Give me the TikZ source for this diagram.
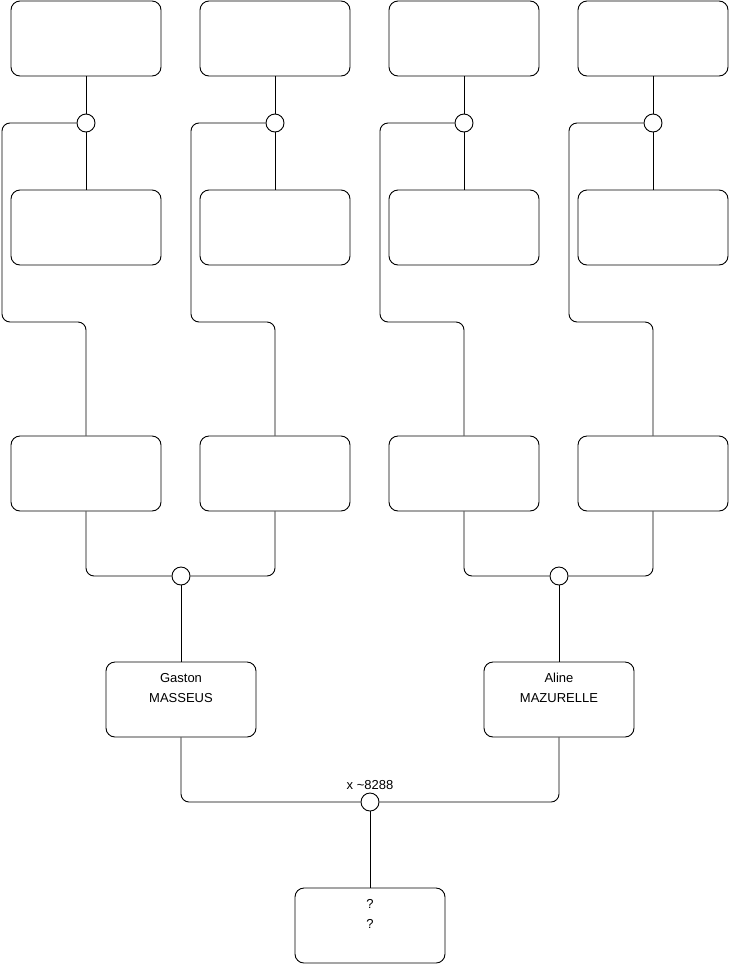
\documentclass[tikz,border=0pt]{standalone}
\usepackage{fontspec}
\setmainfont{Liberation Sans}
\usepackage{tikz}
\usetikzlibrary{positioning, calc}

\tikzset{
    card/.style={draw=black, line width=0.9pt, rounded corners=9pt, fill=white,
                 minimum width=150pt, minimum height=75pt, inner sep=0pt,
                 align=center, font=\fontsize{13}{20}\selectfont},
    union/.style={circle, draw=black, line width=0.9pt, fill=white,
                  minimum size=18pt, inner sep=0pt},
    link/.style={draw=black, line width=0.9pt, rounded corners=8pt},
    tag/.style={font=\fontsize{13}{15}\selectfont, inner sep=0pt}
}

\begin{document}
\begin{tikzpicture}[x=1pt, y=-1pt]
    \useasboundingbox (0,0) rectangle (740,975);

    % top row and second row (couples of the oldest generation)
    \foreach \i/\x in {1/86, 2/275, 3/464, 4/653} {
        \node[card] (t\i) at (\x,38.5) {};
        \node[card] (s\i) at (\x,227.5) {};
        \node[card] (g\i) at (\x,473.5) {};
        \node[union] (u\i) at (\x,123) {};
        \draw[link] (t\i.south) -- (u\i.north);
        \draw[link] (u\i.south) -- (s\i.north);
    }

    % descent from each union to its child
    \draw[link] (u1.west) -- (2,123) -- (2,322) -- (86,322) -- (g1.north);
    \draw[link] (u2.west) -- (191,123) -- (191,322) -- (275,322) -- (g2.north);
    \draw[link] (u3.west) -- (380,123) -- (380,322) -- (464,322) -- (g3.north);
    \draw[link] (u4.west) -- (569,123) -- (569,322) -- (653,322) -- (g4.north);

    % parents of Gaston and Aline
    \node[union] (ua) at (181,576) {};
    \node[union] (ub) at (559,576) {};
    \draw[link] (g1.south) |- (ua.west);
    \draw[link] (g2.south) |- (ua.east);
    \draw[link] (g3.south) |- (ub.west);
    \draw[link] (g4.south) |- (ub.east);

    \node[card] (gaston) at (181,699.5) {Gaston\\MASSEUS\\[4pt]\mbox{}};
    \node[card] (aline) at (559,699.5) {Aline\\MAZURELLE\\[4pt]\mbox{}};
    \draw[link] (ua.south) -- (gaston.north);
    \draw[link] (ub.south) -- (aline.north);

    % the couple and their child
    \node[union] (uc) at (370,802) {};
    \node[tag] (mariage) at (370,785) {x \textasciitilde8288};
    \draw[link] (gaston.south) |- (uc.west);
    \draw[link] (aline.south) |- (uc.east);

    \node[card] (enfant) at (370,925.5) {?\\?\\[4pt]\mbox{}};
    \draw[link] (uc.south) -- (enfant.north);
\end{tikzpicture}
\end{document}
